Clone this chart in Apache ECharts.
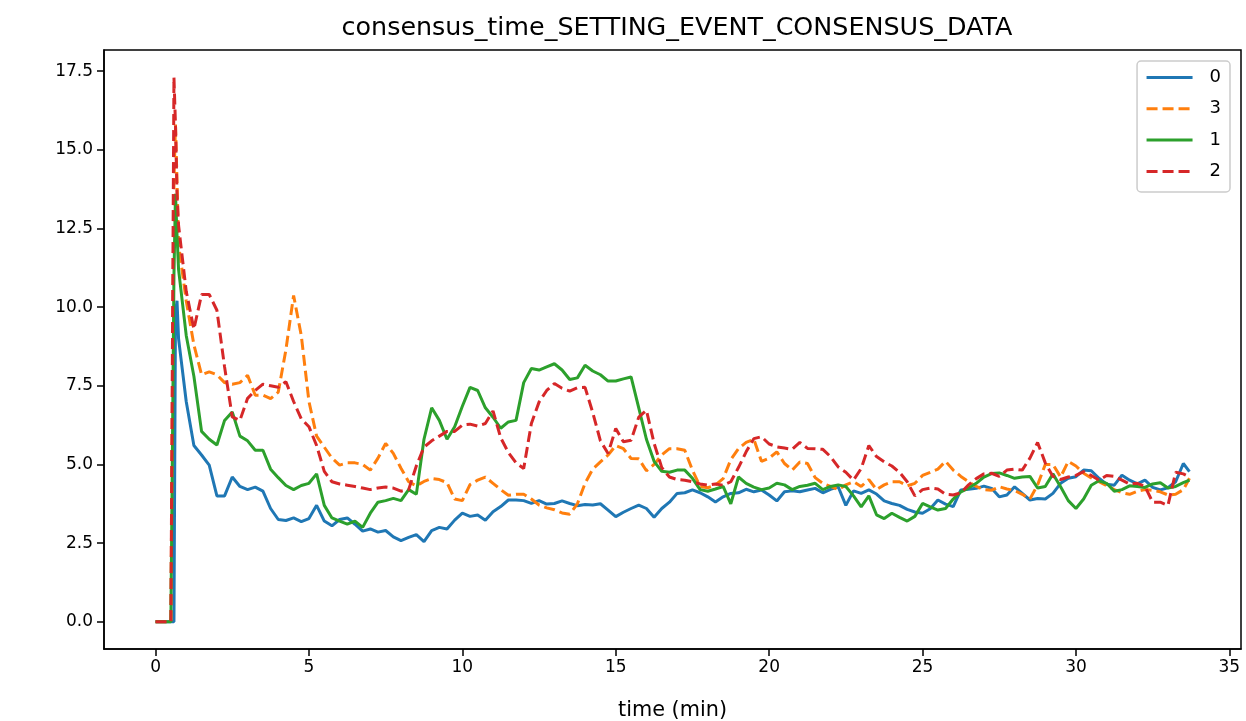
<!DOCTYPE html>
<html>
<head>
<meta charset="utf-8">
<script src="https://cdn.jsdelivr.net/npm/echarts@6/dist/echarts.min.js"></script>
<style>
html,body{margin:0;padding:0;background:#fff;}
#chart{width:1246px;height:721px;}
</style>
</head>
<body>
<div id="chart"></div>
<script>
// time (min)
const times = [0, 0.25, 0.5, 0.55, 0.6, 0.65, 0.7, 0.75,
  1, 1.25, 1.5, 1.75, 2, 2.25, 2.5, 2.75, 3, 3.25, 3.5, 3.75,
  4, 4.25, 4.5, 4.75, 5, 5.25, 5.5, 5.75, 6, 6.25, 6.5, 6.75,
  7, 7.25, 7.5, 7.75, 8, 8.25, 8.5, 8.75, 9, 9.25, 9.5, 9.75,
  10, 10.25, 10.5, 10.75, 11, 11.25, 11.5, 11.75, 12, 12.25, 12.5, 12.75,
  13, 13.25, 13.5, 13.75, 14, 14.25, 14.5, 14.75, 15, 15.25, 15.5, 15.75,
  16, 16.25, 16.5, 16.75, 17, 17.25, 17.5, 17.75, 18, 18.25, 18.5, 18.75,
  19, 19.25, 19.5, 19.75, 20, 20.25, 20.5, 20.75, 21, 21.25, 21.5, 21.75,
  22, 22.25, 22.5, 22.75, 23, 23.25, 23.5, 23.75, 24, 24.25, 24.5, 24.75,
  25, 25.25, 25.5, 25.75, 26, 26.25, 26.5, 26.75, 27, 27.25, 27.5, 27.75,
  28, 28.25, 28.5, 28.75, 29, 29.25, 29.5, 29.75, 30, 30.25, 30.5, 30.75,
  31, 31.25, 31.5, 31.75, 32, 32.25, 32.5, 32.75, 33, 33.25, 33.5, 33.7];

const series0 = [0, 0, 0, 0, 0, 9.8, 10.2, 9.0,
  7.0, 5.6, 5.3, 4.98,  4.0, 4.0, 4.6, 4.3,  4.2, 4.28, 4.15, 3.6,
  3.25, 3.22, 3.3, 3.18,  3.28, 3.7, 3.2, 3.05,  3.25, 3.3, 3.1, 2.88,
  2.95, 2.85, 2.9, 2.7,  2.58, 2.68, 2.77, 2.55,  2.9, 3.0, 2.95, 3.23,
  3.45, 3.35, 3.39, 3.23,  3.5, 3.66, 3.87, 3.87,  3.85, 3.76, 3.85, 3.74,
  3.76, 3.84, 3.76, 3.69,  3.73, 3.71, 3.75, 3.55,  3.34, 3.48, 3.6, 3.71,
  3.6, 3.32, 3.6, 3.8,  4.08, 4.1, 4.19, 4.1,  3.97, 3.81, 3.97, 4.08,
  4.1, 4.21, 4.13, 4.19,  4.03, 3.84, 4.13, 4.16,  4.13, 4.19, 4.24, 4.1,
  4.21, 4.29, 3.7, 4.16,  4.08, 4.19, 4.06, 3.84,  3.76, 3.7, 3.57, 3.49,
  3.45, 3.59, 3.87, 3.74,  3.66, 4.19, 4.21, 4.24,  4.31, 4.24, 3.97, 4.03,
  4.29, 4.08, 3.87, 3.92,  3.9, 4.08, 4.4, 4.56,  4.61, 4.82, 4.8, 4.56,
  4.37, 4.34, 4.66, 4.5,  4.38, 4.5, 4.27, 4.19,  4.26, 4.45, 5.03, 4.77];

const series3 = [0, 0, 0, 0, 14.0, 15.8, 14.0, 12.0,
  10.2, 8.8, 7.85, 7.94,  7.85, 7.6, 7.55, 7.6,  7.83, 7.2, 7.2, 7.09,
  7.3, 8.65, 10.37, 9.1,  7.0, 5.9, 5.55, 5.2,  4.98, 5.05, 5.05, 5.0,
  4.82, 5.2, 5.67, 5.35,  4.88, 4.45, 4.32, 4.46,  4.55, 4.52, 4.42, 3.9,
  3.85, 4.36, 4.5, 4.6,  4.4, 4.2, 4.02, 4.05,  4.05, 3.9, 3.71, 3.62,
  3.56, 3.46, 3.42, 3.75,  4.4, 4.85, 5.08, 5.3,  5.6, 5.5, 5.19, 5.18,
  4.8, 5.0, 5.3, 5.5,  5.5, 5.45, 4.82, 4.3,  4.26, 4.35, 4.55, 5.15,
  5.5, 5.7, 5.8, 5.1,  5.2, 5.4, 5.03, 4.82,  5.08, 5.03, 4.58, 4.4,
  4.3, 4.2, 4.35, 4.45,  4.3, 4.52, 4.2, 4.35,  4.45, 4.45, 4.32, 4.4,
  4.65, 4.75, 4.85, 5.1,  4.82, 4.62, 4.45, 4.3,  4.2, 4.18, 4.29, 4.22,
  4.17, 4.05, 3.9, 4.35,  5.0, 5.0, 4.6, 5.1,  4.95, 4.72, 4.57, 4.45,
  4.33, 4.2, 4.1, 4.05,  4.15, 4.2, 4.18, 4.13,  4.03, 4.05, 4.2, 4.56];

const series1 = [0, 0, 0, 0, 11.0, 13.6, 12.3, 11.2,
  9.1, 7.8, 6.05, 5.8,  5.62, 6.4, 6.67, 5.9,  5.75, 5.45, 5.45, 4.85,
  4.58, 4.33, 4.2, 4.33,  4.4, 4.7, 3.7, 3.3,  3.2, 3.1, 3.2, 3.0,
  3.45, 3.8, 3.85, 3.92,  3.85, 4.2, 4.05, 5.8,  6.8, 6.4, 5.8, 6.2,
  6.85, 7.45, 7.35, 6.8,  6.5, 6.15, 6.35, 6.4,  7.6, 8.05, 8.0, 8.1,
  8.2, 8.0, 7.7, 7.75,  8.15, 7.97, 7.85, 7.65,  7.65, 7.72, 7.78, 6.8,
  5.8, 5.1, 4.78, 4.75,  4.82, 4.82, 4.56, 4.2,  4.15, 4.22, 4.3, 3.75,
  4.6, 4.4, 4.28, 4.2,  4.25, 4.4, 4.35, 4.2,  4.3, 4.34, 4.4, 4.2,
  4.3, 4.35, 4.3, 4.0,  3.65, 4.0, 3.4, 3.28,  3.45, 3.32, 3.2, 3.35,
  3.76, 3.65, 3.55, 3.6,  3.9, 4.13, 4.25, 4.4,  4.6, 4.71, 4.73, 4.65,
  4.56, 4.6, 4.62, 4.25,  4.3, 4.7, 4.29, 3.85,  3.6, 3.9, 4.34, 4.48,
  4.4, 4.15, 4.2, 4.32,  4.3, 4.27, 4.38, 4.42,  4.25, 4.3, 4.42, 4.5];

const series2 = [0, 0, 0, 0, 17.3, 15.8, 13.6, 12.6,
  10.5, 9.3, 10.4, 10.4,  9.9, 8.1, 6.51, 6.4,  7.1, 7.35, 7.55, 7.5,
  7.45, 7.63, 7.0, 6.45,  6.2, 5.6, 4.78, 4.45,  4.38, 4.34, 4.3, 4.25,
  4.2, 4.25, 4.28, 4.25,  4.15, 4.2, 4.95, 5.55,  5.75, 5.9, 6.05, 6.05,
  6.25, 6.28, 6.22, 6.3,  6.7, 5.85, 5.38, 5.05,  4.87, 6.3, 6.98, 7.35,
  7.57, 7.42, 7.33, 7.44,  7.45, 6.65, 5.75, 5.35,  6.14, 5.72, 5.77, 6.5,
  6.72, 5.67, 4.9, 4.6,  4.52, 4.5, 4.45, 4.38,  4.34, 4.38, 4.34, 4.45,
  4.9, 5.4, 5.82, 5.88,  5.65, 5.56, 5.52, 5.48,  5.7, 5.51, 5.5, 5.48,
  5.25, 4.92, 4.75, 4.5,  4.87, 5.6, 5.25, 5.08,  4.95, 4.75, 4.45, 4.0,
  4.2, 4.25, 4.22, 4.05,  4.03, 4.1, 4.35, 4.55,  4.7, 4.72, 4.62, 4.82,
  4.85, 4.82, 5.2, 5.7,  5.05, 4.62, 4.52, 4.6,  4.65, 4.77, 4.65, 4.5,
  4.65, 4.62, 4.5, 4.38,  4.4, 4.3, 3.8, 3.8,  3.7, 4.75, 4.7, 4.6];

const seriesNames = ['0', '3', '1', '2'];
const seriesValues = [series0, series3, series1, series2];
const seriesColors = ['#1f77b4', '#ff7f0e', '#2ca02c', '#d62728'];
const seriesDashed = [false, true, false, true];
const xTicks = [0, 5, 10, 15, 20, 25, 30, 35];
const yTicks = [0, 2.5, 5, 7.5, 10, 12.5, 15, 17.5];
const titleText = 'consensus_time_SETTING_EVENT_CONSENSUS_DATA';
const xName = 'time (min)';

const FONT = '"DejaVu Sans", sans-serif';
const chart = echarts.init(document.getElementById('chart'), null, {renderer: 'canvas'});

const series = seriesNames.map((name, k) => ({
  name: name,
  type: 'line',
  showSymbol: false,
  symbol: 'none',
  z: 2 + k,
  lineStyle: {
    width: 3,
    color: seriesColors[k],
    type: seriesDashed[k] ? [11, 5] : 'solid',
    cap: 'butt'
  },
  itemStyle: {color: seriesColors[k]},
  data: times.map((t, i) => [t, seriesValues[k][i]])
}));

chart.setOption({
  animation: false,
  backgroundColor: '#ffffff',
  title: {
    text: titleText,
    left: 672,
    textAlign: 'center',
    top: 11,
    textStyle: {fontFamily: FONT, fontSize: 25.4, fontWeight: 'normal', color: '#000'}
  },
  legend: {
    data: seriesNames,
    orient: 'vertical',
    right: 16,
    top: 61,
    itemWidth: 46,
    itemHeight: 14,
    itemGap: 10.3,
    padding: [6, 9, 10, 8],
    backgroundColor: 'rgba(255,255,255,0.8)',
    borderColor: '#cccccc',
    borderWidth: 1.5,
    borderRadius: 4,
    itemStyle: {opacity: 0, borderWidth: 0},
    lineStyle: {width: 3},
    textStyle: {fontFamily: FONT, fontSize: 18, color: '#000', lineHeight: 21, padding: [0, 0, 0, 12]}
  },
  grid: {
    left: 104, top: 50, right: 5, bottom: 72,
    outerBoundsMode: 'none',
    containLabel: false,
    show: true, borderColor: '#000', borderWidth: 1.5, backgroundColor: 'transparent'
  },
  xAxis: {
    type: 'value',
    min: -1.68,
    max: 35.38,
    name: xName,
    nameLocation: 'middle',
    nameGap: 51,
    nameTextStyle: {fontFamily: FONT, fontSize: 20.8, color: '#000'},
    axisLine: {show: true, onZero: false, lineStyle: {color: '#000', width: 1.5}},
    axisTick: {show: true, inside: false, length: 7, lineStyle: {color: '#000', width: 1.5}, customValues: xTicks},
    axisLabel: {show: true, margin: 10, fontFamily: FONT, fontSize: 17, color: '#000', customValues: xTicks,
      formatter: v => String(v)},
    splitLine: {show: false}
  },
  yAxis: {
    type: 'value',
    min: -0.865,
    max: 18.17,
    axisLine: {show: true, onZero: false, lineStyle: {color: '#000', width: 1.5}},
    axisTick: {show: true, inside: false, length: 7, lineStyle: {color: '#000', width: 1.5}, customValues: yTicks},
    axisLabel: {show: true, margin: 11, fontFamily: FONT, fontSize: 17, color: '#000', customValues: yTicks,
      formatter: v => Number(v).toFixed(1)},
    splitLine: {show: false}
  },
  series: series
});
</script>
</body>
</html>
